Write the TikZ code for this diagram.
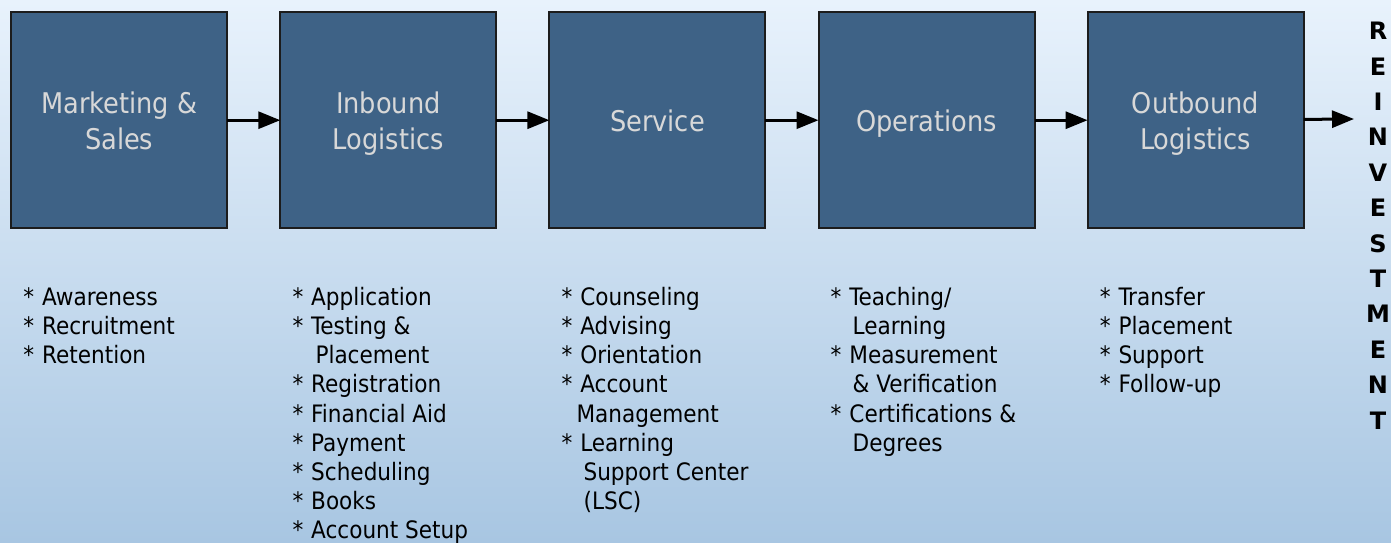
\documentclass[tikz,border=0pt]{standalone}
\usepackage{fontspec}
\setmainfont{DejaVu Sans Condensed}
\newfontfamily\rvfont{DejaVu Sans}
\usepackage{tikz}
\usetikzlibrary{matrix,arrows.meta}
\definecolor{boxblue}{HTML}{3E6286}
\definecolor{boxline}{HTML}{1C1C1C}
\definecolor{boxtext}{HTML}{D8D8D8}
\definecolor{bgtop}{HTML}{E8F2FC}
\definecolor{bgmid}{HTML}{C5DFF6}
\definecolor{bgbot}{HTML}{A8C6E2}
\newcommand\bs{\rule[-7pt]{0pt}{36pt}}
\newcommand\bul{*\hspace{0.33em}}

\begin{document}
\begin{tikzpicture}[x=1pt, y=-1pt,
  box/.style={draw=boxline, line width=2pt, fill=boxblue, text=boxtext, minimum size=216pt,
    inner sep=0pt, outer sep=0pt, align=center, font=\fontsize{28.5}{36}\selectfont},
  list/.style={anchor=north west, inner sep=0pt, align=left, font=\fontsize{24}{29.1}\selectfont},
  rv/.style={anchor=north, inner sep=0pt, align=center, font=\rvfont\bfseries\fontsize{24}{35.4}\selectfont},
  flow/.style={-{Triangle[length=22pt,width=17pt]}, line width=3pt}]
  \shade[top color=bgtop, middle color=bgmid, bottom color=bgbot] (0,0) rectangle (1391,542);
  \matrix (m) [column sep=51.1pt, inner sep=0pt, anchor=north west] at (10,11)
  {
\node[box] (mk) {\bs Marketing \&\\\bs Sales}; & \node[box] (ib) {\bs Inbound\\\bs Logistics}; &
\node[box] (sv) {\bs Service}; & \node[box] (op) {\bs Operations}; & \node[box] (ob) {\bs Outbound\\\bs Logistics}; \\
};
  \coordinate (out) at (1354,119);
  \path[flow]
  (mk) edge (ib)
  (ib) edge (sv)
  (sv) edge (op)
  (op) edge (ob)
  (ob) edge (out)
  ;
  % lists under the boxes
  \node[list] (l-mk) at ([shift={(12,59)}]mk.south west)
    {\bul Awareness\\\bul Recruitment\\\bul Retention};
  \node[list] (l-ib) at ([shift={(12,59)}]ib.south west)
    {\bul Application\\\bul Testing \&\\\hspace*{23pt}Placement\\\bul Registration\\\bul Financial Aid\\\bul Payment\\\bul Scheduling\\\bul Books\\\bul Account Setup};
  \node[list] (l-sv) at ([shift={(12,59)}]sv.south west)
    {\bul Counseling\\\bul Advising\\\bul Orientation\\\bul Account\\\hspace*{15pt}Management\\\bul Learning\\\hspace*{22pt}Support Center\\\hspace*{22pt}(LSC)};
  \node[list] (l-op) at ([shift={(12,59)}]op.south west)
    {\bul Teaching/\\\hspace*{22pt}Learning\\\bul Measurement\\\hspace*{22pt}\& Verification\\\bul Certifications \&\\\hspace*{22pt}Degrees};
  \node[list] (l-ob) at ([shift={(12,59)}]ob.south west)
    {\bul Transfer\\\bul Placement\\\bul Support\\\bul Follow-up};
  \node[rv] (rv) at (1378,22) {R\\E\\I\\N\\V\\E\\S\\T\\M\\E\\N\\T};
\end{tikzpicture}
\end{document}
